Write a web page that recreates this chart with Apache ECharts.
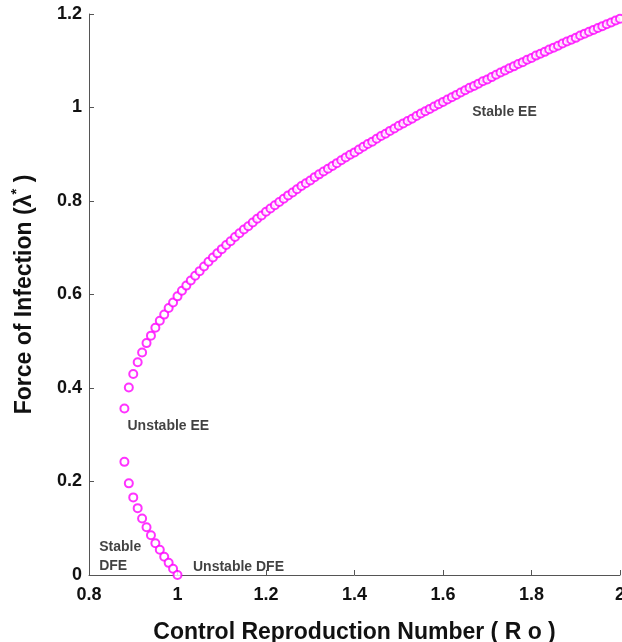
<!DOCTYPE html>
<html>
<head>
<meta charset="utf-8">
<script src="https://cdn.jsdelivr.net/npm/echarts@6/dist/echarts.min.js"></script>
<style>
  html, body { margin: 0; padding: 0; background: #fff; }
  #chart { width: 622px; height: 642px; }
</style>
</head>
<body>
<div id="chart"></div>
<script>
// R0 values of the two branches (step 0.01)
var lowerR0 = [0.88, 0.89, 0.90, 0.91, 0.92, 0.93, 0.94, 0.95, 0.96, 0.97, 0.98, 0.99, 1.00];
var lowerLambda = [0.242, 0.196, 0.166, 0.143, 0.121, 0.102, 0.085, 0.068, 0.054, 0.039, 0.026, 0.0135, 0.0];

var upperR0 = [];
for (var i = 88; i <= 200; i++) upperR0.push(i / 100);
var upperLambda = [
  0.356, 0.401, 0.430, 0.455, 0.476, 0.496, 0.512, 0.529, 0.544, 0.557, 0.571, 0.583,
  0.596, 0.608, 0.619, 0.630, 0.640, 0.650, 0.660, 0.670, 0.679, 0.688,
  0.697, 0.706, 0.714, 0.723, 0.731, 0.739, 0.746, 0.754, 0.762, 0.769,
  0.777, 0.784, 0.791, 0.798, 0.805, 0.812, 0.818, 0.825, 0.832, 0.838,
  0.844, 0.851, 0.857, 0.863, 0.869, 0.875, 0.881, 0.887, 0.893, 0.899,
  0.904, 0.910, 0.916, 0.922, 0.927, 0.933, 0.939, 0.944, 0.950, 0.955,
  0.961, 0.966, 0.971, 0.976, 0.982, 0.987, 0.992, 0.997, 1.002, 1.007,
  1.012, 1.017, 1.022, 1.027, 1.032, 1.037, 1.042, 1.046, 1.051, 1.056,
  1.060, 1.065, 1.070, 1.075, 1.079, 1.084, 1.088, 1.093, 1.097, 1.102,
  1.106, 1.111, 1.115, 1.119, 1.124, 1.128, 1.132, 1.137, 1.141, 1.145,
  1.149, 1.154, 1.158, 1.162, 1.166, 1.170, 1.174, 1.178, 1.182, 1.186,
  1.190
];

var xTicks = [0.8, 1, 1.2, 1.4, 1.6, 1.8, 2];
var yTicks = [0, 0.2, 0.4, 0.6, 0.8, 1, 1.2];

// text annotations on the plot (data coordinates, left edge of text)
var noteText = ['Stable EE', 'Unstable EE', 'Stable\nDFE', 'Unstable DFE'];
var noteX = [1.666, 0.887, 0.823, 1.035];
var noteY = [0.99, 0.319, 0.039, 0.017];

var pts = [];
for (var i = 0; i < lowerR0.length; i++) pts.push([lowerR0[i], lowerLambda[i]]);
for (var j = 0; j < upperR0.length; j++) pts.push([upperR0[j], upperLambda[j]]);

var notes = noteText.map(function (t, k) {
  return { name: t, value: [noteX[k], noteY[k]] };
});

var FONT = '"Liberation Sans", Arial, sans-serif';

var myChart = echarts.init(document.getElementById('chart'));
var option = {
  animation: false,
  backgroundColor: '#fff',
  grid: { left: 89, right: 2, top: 14, bottom: 67, containLabel: false, outerBoundsMode: 'none' },
  xAxis: {
    type: 'value',
    min: xTicks[0],
    max: xTicks[xTicks.length - 1],
    interval: 0.2,
    name: 'Control Reproduction Number ( R o )',
    nameLocation: 'middle',
    nameGap: 46,
    nameTextStyle: { fontFamily: FONT, fontWeight: 'bold', fontSize: 23, color: '#111' },
    splitLine: { show: false },
    axisLine: { lineStyle: { color: '#555', width: 1 } },
    axisTick: { inside: true, length: 5, lineStyle: { color: '#555' } },
    axisLabel: { fontFamily: FONT, fontWeight: 'bold', fontSize: 18, color: '#111', margin: 11, hideOverlap: false }
  },
  yAxis: {
    type: 'value',
    min: yTicks[0],
    max: yTicks[yTicks.length - 1],
    interval: 0.2,
    name: 'Force of Infection (λ{s|*} )',
    nameLocation: 'middle',
    nameGap: 49,
    nameTextStyle: {
      fontFamily: FONT, fontWeight: 'bold', fontSize: 23, color: '#111',
      rich: { s: { fontFamily: FONT, fontWeight: 'bold', fontSize: 15, color: '#111', padding: [0, 0, 16, 0] } }
    },
    splitLine: { show: false },
    axisLine: { show: true, lineStyle: { color: '#555', width: 1 } },
    axisTick: { show: true, inside: true, length: 5, lineStyle: { color: '#555' } },
    axisLabel: { fontFamily: FONT, fontWeight: 'bold', fontSize: 18, color: '#111', margin: 7 }
  },
  series: [
    {
      name: 'lambda',
      type: 'scatter',
      symbol: 'emptyCircle',
      symbolSize: 8,
      itemStyle: { color: '#ff00ff', borderColor: '#ff00ff', borderWidth: 2 },
      data: pts
    },
    {
      name: 'notes',
      type: 'scatter',
      symbolSize: 0,
      silent: true,
      label: {
        show: true,
        position: 'inside',
        formatter: '{b}',
        align: 'left',
        fontFamily: FONT,
        fontWeight: 'bold',
        fontSize: 14,
        lineHeight: 19,
        color: '#111'
      },
      data: notes
    }
  ]
};
myChart.setOption(option);
window.addEventListener('resize', function () {
  myChart.resize();
});
</script>
</body>
</html>
